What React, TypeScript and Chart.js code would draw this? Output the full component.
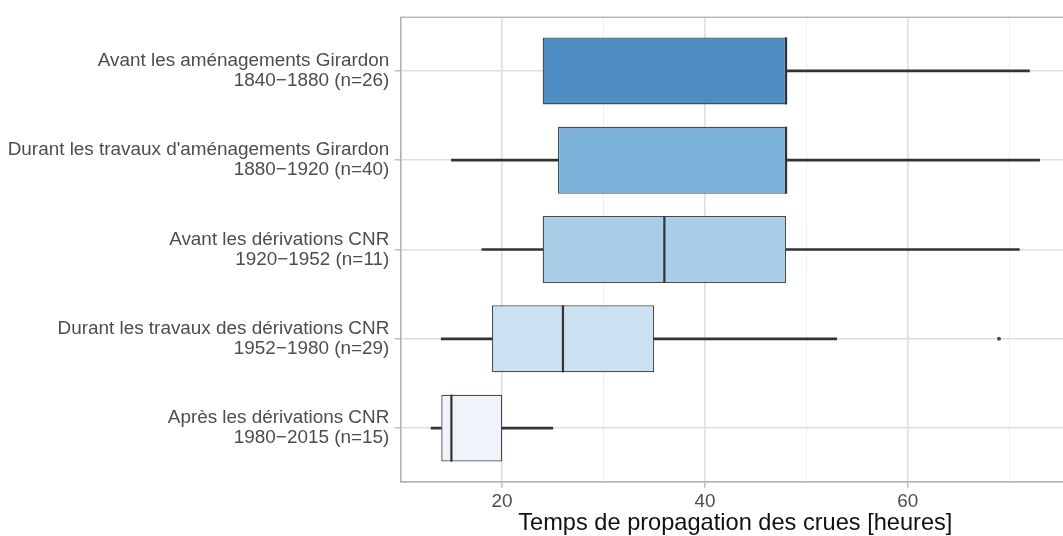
import React, { useEffect, useRef } from 'react';
import { Chart, registerables } from 'chart.js';

Chart.register(...registerables);

// ---- data ----
const categories: string[][] = [
  ['Avant les aménagements Girardon', '1840−1880 (n=26)'],
  ["Durant les travaux d'aménagements Girardon", '1880−1920 (n=40)'],
  ['Avant les dérivations CNR', '1920−1952 (n=11)'],
  ['Durant les travaux des dérivations CNR', '1952−1980 (n=29)'],
  ['Après les dérivations CNR', '1980−2015 (n=15)'],
];
const whiskerLow = [24, 15, 18, 14, 13];
const q1 = [24, 25.5, 24, 19, 14];
const median = [48, 48, 36, 26, 15];
const q3 = [48, 48, 48, 35, 20];
const whiskerHigh = [72, 73, 71, 53, 25];
const outlierValues = [69];
const outlierGroups = [3];
const boxColors = ['#4f8ec5', '#7db3da', '#a9cde6', '#cbe0f1', '#eff4fa'];
const xTickValues = [10, 20, 30, 40, 50, 60, 70];
const xLabelledTicks = [20, 40, 60];
const xTitle = 'Temps de propagation des crues [heures]';

const FONT = "'Liberation Sans', Arial, sans-serif";

const medianAndBorderPlugin = {
  id: 'medianAndBorder',
  afterDatasetsDraw(chart: any) {
    const ctx = chart.ctx;
    const xs = chart.scales.x;
    const meta = chart.getDatasetMeta(1);
    ctx.save();
    ctx.strokeStyle = '#333333';
    ctx.lineWidth = 2.2;
    median.forEach((m, i) => {
      const el = meta.data[i];
      if (!el) return;
      const { y, height } = el.getProps(['y', 'height'], true);
      const px = xs.getPixelForValue(m);
      ctx.beginPath();
      ctx.moveTo(px, y - height / 2);
      ctx.lineTo(px, y + height / 2);
      ctx.stroke();
    });
    const a = chart.chartArea;
    ctx.strokeStyle = '#b3b3b3';
    ctx.lineWidth = 1.4;
    ctx.strokeRect(a.left, a.top, a.right - a.left, a.bottom - a.top);
    ctx.restore();
  },
};

export default function App() {
  const ref = useRef<HTMLCanvasElement | null>(null);

  useEffect(() => {
    if (!ref.current) return;
    const idx = categories.map((_, i) => i);
    const chart = new Chart(ref.current, {
      type: 'bar',
      data: {
        datasets: [
          {
            type: 'scatter',
            label: 'outliers',
            data: outlierValues.map((v, k) => ({ x: v, y: outlierGroups[k] })),
            pointRadius: 2,
            backgroundColor: '#4d4d4d',
            borderWidth: 0,
            order: 0,
          } as any,
          {
            label: 'box',
            data: idx.map((i) => ({ x: [q1[i], q3[i]], y: i })),
            backgroundColor: boxColors,
            borderColor: 'rgba(45,45,45,0.85)',
            borderWidth: 1.3,
            borderSkipped: false,
            categoryPercentage: 1,
            barPercentage: 0.75,
            grouped: false,
            order: 1,
          } as any,
          {
            label: 'whiskerLow',
            data: idx.map((i) => ({ x: whiskerLow[i] < q1[i] ? [whiskerLow[i], q1[i]] : null, y: i })),
            backgroundColor: '#333333',
            borderWidth: 0,
            barThickness: 2,
            grouped: false,
            order: 2,
          } as any,
          {
            label: 'whiskerHigh',
            data: idx.map((i) => ({ x: whiskerHigh[i] > q3[i] ? [q3[i], whiskerHigh[i]] : null, y: i })),
            backgroundColor: '#333333',
            borderWidth: 0,
            barThickness: 2,
            grouped: false,
            order: 2,
          } as any,
        ],
      },
      options: {
        indexAxis: 'y',
        animation: false,
        responsive: false,
        events: [],
        layout: { padding: { top: 17.3, left: 0, right: 0, bottom: 0 } },
        plugins: {
          legend: { display: false },
          tooltip: { enabled: false },
        },
        scales: {
          x: {
            type: 'linear',
            position: 'bottom',
            min: 10,
            max: 76,
            offset: false,
            afterBuildTicks: (s: any) => {
              s.ticks = xTickValues.map((v) => ({ value: v }));
            },
            afterFit: (s: any) => {
              s.height = 54.3;
              s.paddingLeft = 0;
              s.paddingRight = 0;
            },
            ticks: {
              autoSkip: false,
              maxRotation: 0,
              padding: 3,
              color: '#4d4d4d',
              font: { family: FONT, size: 18.9 },
              callback: (v: any) => (xLabelledTicks.includes(Number(v)) ? String(v) : ''),
            },
            grid: {
              offset: false,
              color: (c: any) => (xLabelledTicks.includes(c.tick?.value) ? '#dedede' : '#ececec'),
              lineWidth: (c: any) => (xLabelledTicks.includes(c.tick?.value) ? 1.6 : 0.9),
              tickColor: (c: any) => (xLabelledTicks.includes(c.tick?.value) ? '#b3b3b3' : 'rgba(0,0,0,0)'),
              tickLength: 6,
              tickWidth: 1.3,
            },
            border: { display: true, color: '#b3b3b3', width: 1.4 },
            title: {
              display: true,
              text: xTitle,
              color: '#111111',
              font: { family: FONT, size: 23.6, lineHeight: 1 },
              padding: { top: 0, bottom: 1 },
            },
          },
          y: {
            type: 'linear',
            position: 'left',
            reverse: true,
            offset: false,
            min: -0.6,
            max: categories.length - 1 + 0.6,
            afterBuildTicks: (s: any) => {
              s.ticks = idx.map((v) => ({ value: v }));
            },
            afterFit: (s: any) => {
              s.width = 400.7;
              s.paddingTop = 0;
              s.paddingBottom = 0;
            },
            ticks: {
              autoSkip: false,
              padding: 5.4,
              color: '#4d4d4d',
              font: { family: FONT, size: 18.9, lineHeight: 1.06 },
              callback: (v: any) => categories[Number(v)] ?? '',
            },
            grid: {
              offset: false,
              color: '#dedede',
              lineWidth: 1.6,
              tickColor: '#b3b3b3',
              tickLength: 6,
              tickWidth: 1.3,
            },
            border: { display: true, color: '#b3b3b3', width: 1.4 },
          },
        },
      },
      plugins: [medianAndBorderPlugin],
    } as any);
    return () => chart.destroy();
  }, []);

  return (
    <div
      style={{
        position: 'absolute',
        left: 0,
        top: 0,
        width: 1063,
        height: 536,
        overflow: 'hidden',
        background: '#ffffff',
      }}
    >
      <canvas ref={ref} width={1074} height={536} style={{ display: 'block' }} />
    </div>
  );
}
